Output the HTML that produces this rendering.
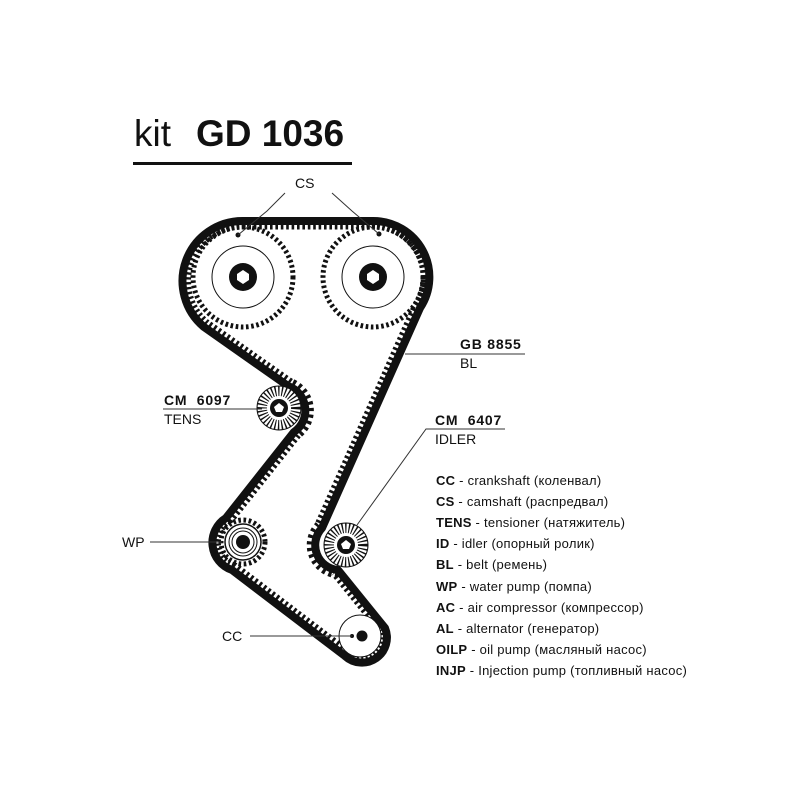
<!DOCTYPE html>
<html><head><meta charset="utf-8"><style>
html,body{margin:0;padding:0;background:#fff;}
svg{display:block;}
text{font-family:"Liberation Sans",Arial,sans-serif;fill:#111;}
</style></head><body>
<svg width="800" height="800" viewBox="0 0 800 800" xmlns="http://www.w3.org/2000/svg">
<defs>
<path id="belt" d="M243,221 L373,221 A56,56 0 0 1 420,308 L322,528 A25,25 0 0 0 338,570 L385,628 A25,25 0 0 1 345,656 L232,570 A29,29 0 0 1 226,518 L294,432 A26,26 0 0 0 288,386 L204,327 A60,60 0 0 1 243,221 Z"/>
<clipPath id="inside"><use href="#belt"/></clipPath>
</defs>
<!-- title -->
<text x="134" y="146" font-size="37">kit</text>
<text x="196" y="146" font-size="37" font-weight="bold">GD 1036</text>
<rect x="133" y="162" width="219" height="3" fill="#111"/>

<!-- cam pulleys -->
<g>
<circle cx="243" cy="277" r="50" fill="#fff" stroke="#111" stroke-width="5" stroke-dasharray="2.6 2.6"/>
<circle cx="243" cy="277" r="47" fill="#fff"/>
<circle cx="243" cy="277" r="31" fill="none" stroke="#111" stroke-width="1"/>
<circle cx="243" cy="277" r="14" fill="#111"/>
<polygon points="243,270 249,274 249,280 243,284 237,280 237,274" fill="#fff"/>
<circle cx="373" cy="277" r="50" fill="#fff" stroke="#111" stroke-width="5" stroke-dasharray="2.6 2.6"/>
<circle cx="373" cy="277" r="47" fill="#fff"/>
<circle cx="373" cy="277" r="31" fill="none" stroke="#111" stroke-width="1"/>
<circle cx="373" cy="277" r="14" fill="#111"/>
<polygon points="373,270 379,274 379,280 373,284 367,280 367,274" fill="#fff"/>
<circle cx="238" cy="235" r="2.5" fill="#111"/>
<circle cx="379" cy="234" r="2.5" fill="#111"/>
</g>

<!-- belt teeth and belt -->
<g clip-path="url(#inside)">
<use href="#belt" fill="none" stroke="#111" stroke-width="17" stroke-dasharray="2.6 2.8"/>
</g>
<use href="#belt" fill="none" stroke="#111" stroke-width="8" stroke-linejoin="round"/>

<!-- tensioner -->
<g>
<circle cx="279" cy="408" r="22" fill="#fff" stroke="#111" stroke-width="1"/>
<circle cx="279" cy="408" r="17" fill="none" stroke="#111" stroke-width="10" stroke-dasharray="1.3 2"/>
<circle cx="279" cy="408" r="9" fill="#111"/>
<polygon points="279,403 284,407 282,412 276,412 274,407" fill="#fff"/>
</g>
<!-- water pump -->
<g>
<circle cx="243" cy="542" r="22" fill="#fff" stroke="#111" stroke-width="5" stroke-dasharray="2.6 2.6"/>
<circle cx="243" cy="542" r="18" fill="#fff" stroke="#111" stroke-width="1.5"/>
<circle cx="243" cy="542" r="14" fill="none" stroke="#111" stroke-width="1"/>
<circle cx="243" cy="542" r="11" fill="none" stroke="#111" stroke-width="1"/>
<circle cx="243" cy="542" r="7" fill="#111"/>
</g>
<!-- idler -->
<g>
<circle cx="346" cy="545" r="22" fill="#fff" stroke="#111" stroke-width="1"/>
<circle cx="346" cy="545" r="17" fill="none" stroke="#111" stroke-width="10" stroke-dasharray="1.3 2"/>
<circle cx="346" cy="545" r="9" fill="#111"/>
<polygon points="346,540 351,544 349,549 343,549 341,544" fill="#fff"/>
</g>
<!-- crank -->
<g>
<circle cx="360" cy="636" r="21" fill="#fff" stroke="#111" stroke-width="1"/>
<circle cx="362" cy="636" r="5.5" fill="#111"/>
<circle cx="352" cy="636" r="2" fill="#111"/>
</g>

<!-- callouts -->
<g stroke="#333" stroke-width="1" fill="none">
<polyline points="238,235 267,211 285,193"/>
<polyline points="379,234 352,211 332,193"/>
<polyline points="405,354 525,354"/>
<polyline points="163,409 262,409"/>
<polyline points="505,429 426,429 357,525"/>
<polyline points="150,542 222,542"/>
<polyline points="250,636 352,636"/>
</g>
<text x="295" y="188" font-size="14">CS</text>
<text x="460" y="349" font-size="14" font-weight="bold" letter-spacing="0.8">GB 8855</text>
<text x="460" y="368" font-size="14">BL</text>
<text x="164" y="405" font-size="14" font-weight="bold" letter-spacing="0.8">CM&#160; 6097</text>
<text x="164" y="424" font-size="14">TENS</text>
<text x="435" y="425" font-size="14" font-weight="bold" letter-spacing="0.8">CM&#160; 6407</text>
<text x="435" y="444" font-size="14">IDLER</text>
<text x="122" y="547" font-size="14">WP</text>
<text x="222" y="641" font-size="14">CC</text>

<!-- legend -->
<g font-size="13" letter-spacing="0.25">
<text x="436" y="485"><tspan font-weight="bold">CC</tspan> - crankshaft (коленвал)</text>
<text x="436" y="506"><tspan font-weight="bold">CS</tspan> - camshaft (распредвал)</text>
<text x="436" y="527"><tspan font-weight="bold">TENS</tspan> - tensioner (натяжитель)</text>
<text x="436" y="548"><tspan font-weight="bold">ID</tspan> - idler (опорный ролик)</text>
<text x="436" y="569"><tspan font-weight="bold">BL</tspan> - belt (ремень)</text>
<text x="436" y="591"><tspan font-weight="bold">WP</tspan> - water pump (помпа)</text>
<text x="436" y="612"><tspan font-weight="bold">AC</tspan> - air compressor (компрессор)</text>
<text x="436" y="633"><tspan font-weight="bold">AL</tspan> - alternator (генератор)</text>
<text x="436" y="654"><tspan font-weight="bold">OILP</tspan> - oil pump (масляный насос)</text>
<text x="436" y="675"><tspan font-weight="bold">INJP</tspan> - Injection pump (топливный насос)</text>
</g>
</svg>
</body></html>
